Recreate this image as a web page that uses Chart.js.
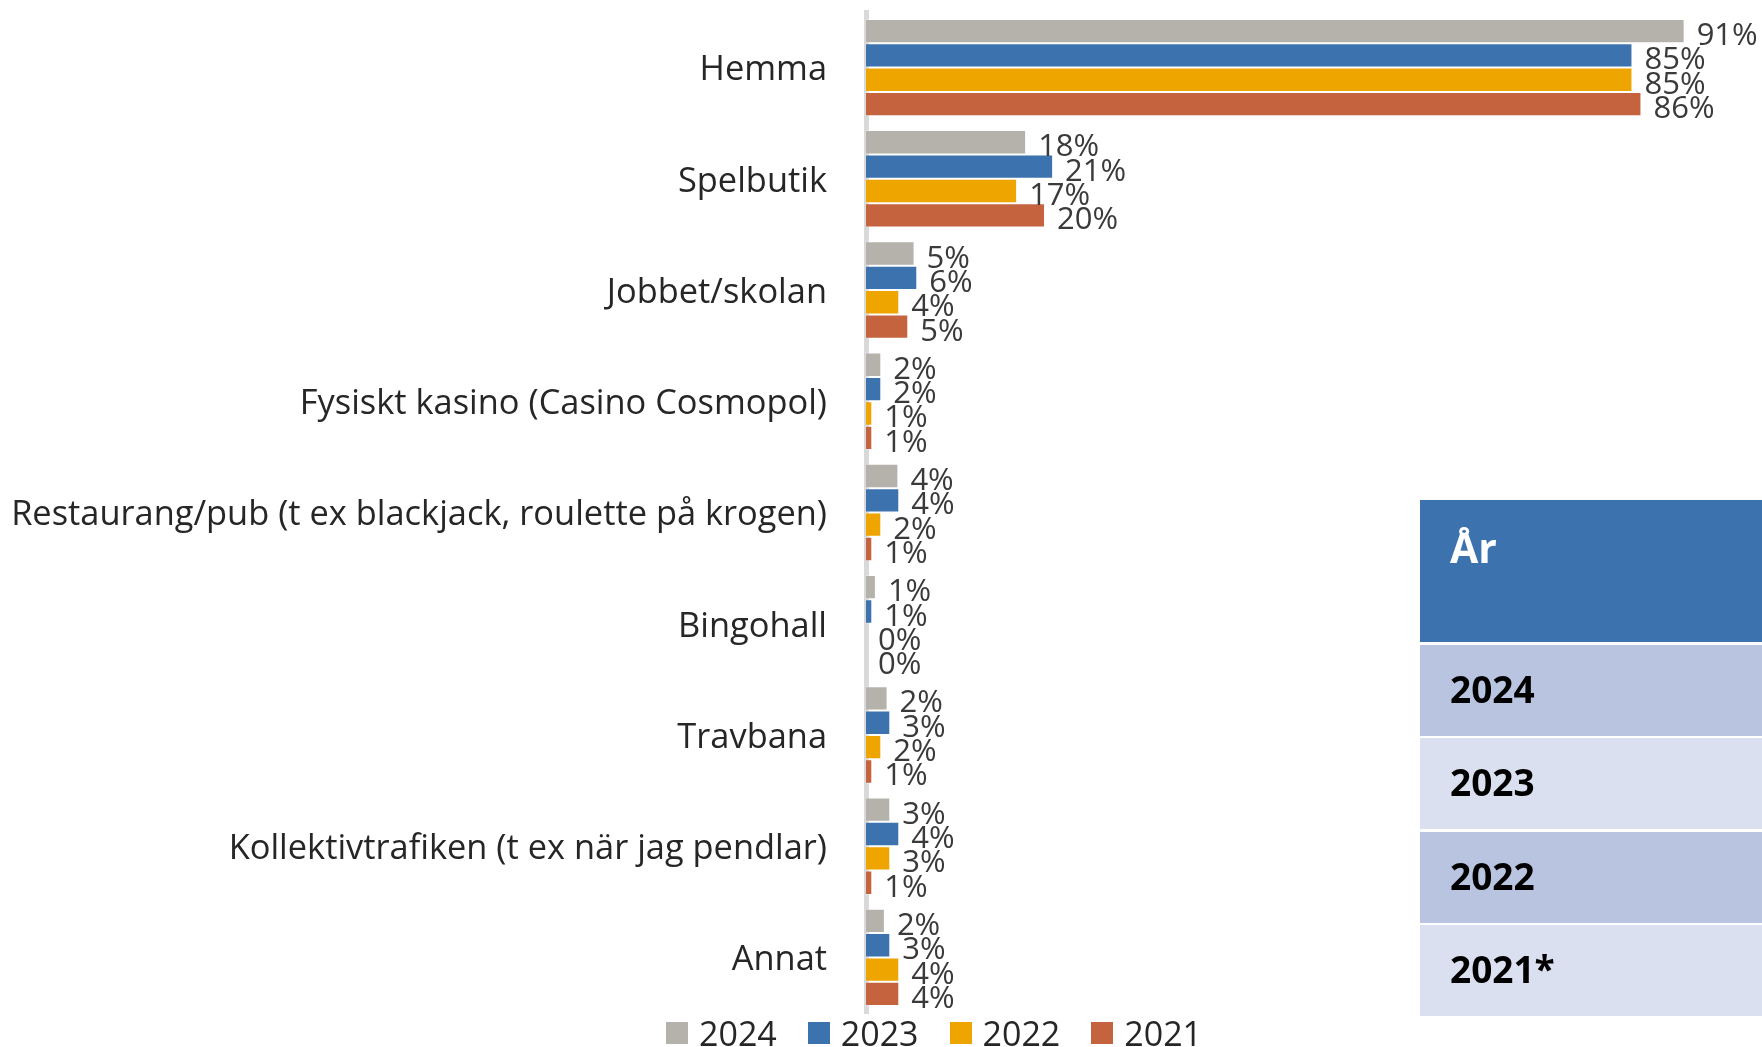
<!DOCTYPE html>
<html>
<head>
<meta charset="utf-8">
<script src="https://cdn.jsdelivr.net/npm/chart.js@4.4.1/dist/chart.umd.min.js"></script>
<style>
    body { margin: 0; background: #fff; overflow: hidden; width: 1762px; height: 1047px; position: relative; }
    #myChart { position: absolute; left: 0; top: 0; }
    #legend { position: absolute; left: 666px; top: 1010px; display: flex; gap: 31px; font-family: "Open Sans"; font-size: 34px; color: #262626; }
    .legendItem { display: flex; align-items: center; }
    .legendBox { width: 22px; height: 22px; margin-right: 11px; }
    #yearTable { position: absolute; left: 1420px; top: 500px; width: 400px; font-family: "Open Sans"; font-weight: 700; font-size: 37px; }
    .tHead { height: 142px; background: #3c73ae; color: #fff; padding-left: 30px; box-sizing: border-box; line-height: 1; padding-top: 27px; font-size: 41px; }
    .tRow { height: 91px; margin-top: 2.5px; color: #000; padding-left: 30px; padding-bottom: 4px; box-sizing: border-box; display: flex; align-items: center; }
</style>
</head>
<body>
<canvas id="myChart" width="1762" height="1047"></canvas>
<div id="legend"></div>
<div id="yearTable"></div>

<script>
//DATA
const categories = [
    'Hemma',
    'Spelbutik',
    'Jobbet/skolan',
    'Fysiskt kasino (Casino Cosmopol)',
    'Restaurang/pub (t ex blackjack, roulette på krogen)',
    'Bingohall',
    'Travbana',
    'Kollektivtrafiken (t ex när jag pendlar)',
    'Annat'
];
const seriesNames = ['2024', '2023', '2022', '2021'];
const values2024 = [91, 17.8, 5.4, 1.7, 3.6, 1.1, 2.4, 2.7, 2.1];
const values2023 = [85.2, 20.8, 5.7, 1.7, 3.7, 0.7, 2.7, 3.7, 2.7];
const values2022 = [85.2, 16.8, 3.7, 0.7, 1.7, 0, 1.7, 2.7, 3.7];
const values2021 = [86.2, 19.9, 4.7, 0.7, 0.7, 0, 0.7, 0.7, 3.7];
const seriesColors = ['#b5b2ab', '#3c73ae', '#eea500', '#c5633f'];

const tableHeader = 'År';
const tableRows = ['2024', '2023', '2022', '2021*'];
const tableRowColors = ['#b9c4e0', '#dae0ef', '#b9c4e0', '#dae0ef'];


//VALUE LABELS NEXT TO EACH BAR
const valueLabels = {
    id: 'valueLabels',
    afterDatasetsDraw(chart) {
        const ctx = chart.ctx;
        ctx.save();
        ctx.font = '31px "Open Sans"';
        ctx.fillStyle = '#3a3a3a';
        ctx.textAlign = 'left';
        ctx.textBaseline = 'alphabetic';
        chart.data.datasets.forEach((ds, i) => {
            chart.getDatasetMeta(i).data.forEach((bar, j) => {
                ctx.fillText(Math.round(ds.data[j]) + '%', bar.x + 12, bar.y + 14);
            });
        });
        ctx.restore();
    }
};


const buildLegend = () => {
    let html = '';
    for (let i = 0; i < seriesNames.length; i++) {
        html += `<div class="legendItem"><div class="legendBox" style="background:${seriesColors[i]}"></div>${seriesNames[i]}</div>`;
    }
    document.getElementById('legend').innerHTML = html;
}

const buildTable = () => {
    let html = `<div class="tHead">${tableHeader}</div>`;
    for (let i = 0; i < tableRows.length; i++) {
        html += `<div class="tRow" style="background:${tableRowColors[i]}">${tableRows[i]}</div>`;
    }
    document.getElementById('yearTable').innerHTML = html;
}


const drawChart = () => {
    const allValues = [values2024, values2023, values2022, values2021];
    const ctx = document.getElementById('myChart');

    new Chart(ctx, {
        type: 'bar',
        data: {
            labels: categories,
            datasets: seriesNames.map((name, i) => ({
                label: name,
                data: allValues[i],
                backgroundColor: seriesColors[i],
                borderColor: 'rgba(255, 255, 255, 0.35)',
                borderWidth: 1,
                categoryPercentage: 0.876,
                barPercentage: 1
            }))
        },
        options: {
            indexAxis: 'y',
            responsive: false,
            animation: false,
            layout: {
                padding: { top: 12, bottom: 34, left: 10, right: 0 }
            },
            plugins: {
                legend: { display: false },
                tooltip: { enabled: false }
            },
            scales: {
                x: { display: false, min: 0, max: 99.6 },
                y: {
                    grid: { display: false, drawTicks: false },
                    border: { display: true, color: '#d9d9d9', width: 5 },
                    ticks: {
                        padding: 39,
                        labelOffset: 3,
                        color: '#262626',
                        autoSkip: false,
                        font: { family: 'Open Sans', size: 34.4 }
                    },
                    afterFit: (scale) => {
                        scale.width = 856;
                        scale.paddingTop = 0;
                        scale.paddingBottom = 0;
                    }
                }
            }
        },
        plugins: [valueLabels]
    });
}

buildLegend();
buildTable();
document.fonts.load('34px "Open Sans"').then(drawChart, drawChart);
</script>
</body>
</html>
